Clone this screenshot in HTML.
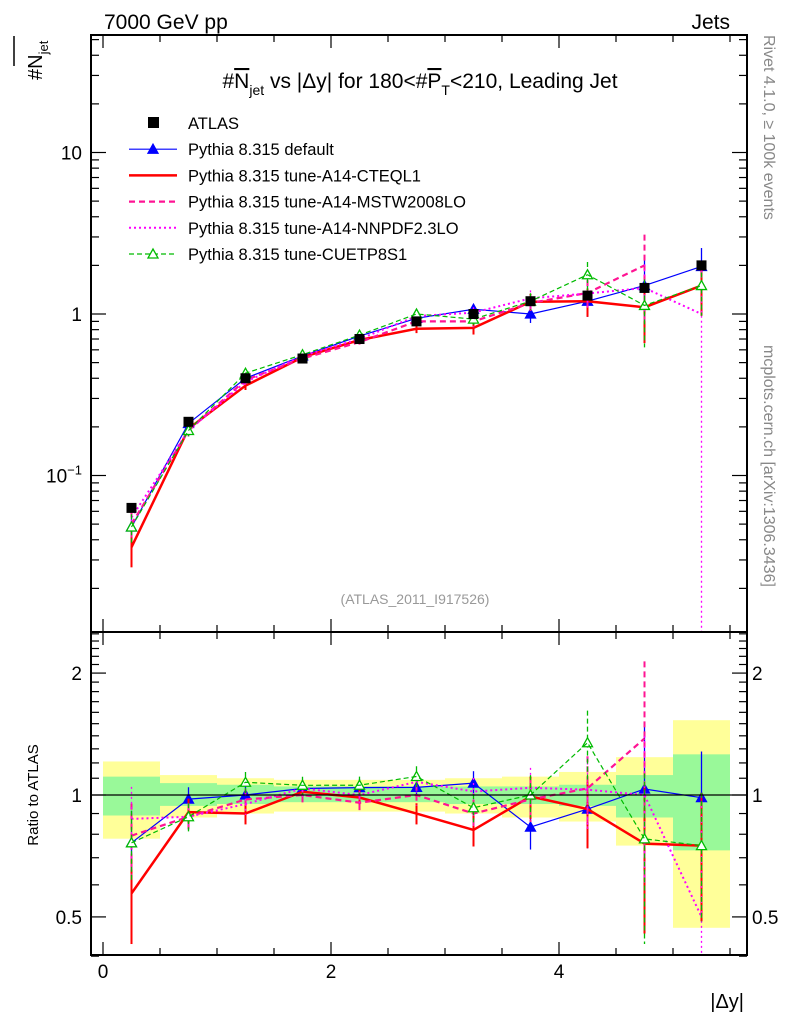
<!DOCTYPE html>
<html><head><meta charset="utf-8"><style>
body{margin:0;background:#fff;width:786px;height:1024px;overflow:hidden}
svg{font-family:"Liberation Sans",sans-serif}
</style></head><body>
<svg id="c" width="786" height="1024" viewBox="0 0 786 1024">
<rect width="786" height="1024" fill="#fff"/>
<g id="bands"></g>
<g id="series"></g>
<g id="axes"></g>
<text x="104" y="29" font-size="21">7000 GeV pp</text>
<text x="730" y="29" font-size="21" text-anchor="end">Jets</text>
<text x="420" y="88" font-size="21" text-anchor="middle">#<tspan text-decoration="overline">N</tspan><tspan font-size="14" dy="7">jet</tspan><tspan dy="-7"> vs |Δy| for 180&lt;#</tspan><tspan text-decoration="overline">P</tspan><tspan font-size="14" dy="7">T</tspan><tspan dy="-7">&lt;210, Leading Jet</tspan></text>
<text transform="translate(42,80) rotate(-90)" font-size="20">#N<tspan font-size="13" dy="6">jet</tspan></text>
<line x1="14" y1="36" x2="14" y2="66" stroke="#000" stroke-width="1.5"/>
<text transform="translate(38,795) rotate(-90)" font-size="15" text-anchor="middle">Ratio to ATLAS</text>
<text x="744" y="1008" font-size="20" text-anchor="end">|Δy|</text>
<text x="415" y="604" font-size="14" fill="#999" text-anchor="middle">(ATLAS_2011_I917526)</text>
<text transform="translate(764,35) rotate(90)" font-size="16" fill="#888">Rivet 4.1.0, ≥ 100k events</text>
<text transform="translate(764,345) rotate(90)" font-size="16" fill="#888">mcplots.cern.ch [arXiv:1306.3436]</text>
<g id="legend"></g>
</svg>
<script>
const binLo=[0,0.5,1,1.5,2,2.5,3,3.5,4,4.5,5];
const binHi=[0.5,1,1.5,2,2.5,3,3.5,4,4.5,5,5.5];
const centers=[0.25,0.75,1.25,1.75,2.25,2.75,3.25,3.75,4.25,4.75,5.25];
const atlas=[0.063,0.215,0.40,0.53,0.70,0.90,1.0,1.2,1.3,1.45,2.0];
const bandYellowUp=[1.21,1.12,1.1,1.09,1.09,1.09,1.1,1.11,1.14,1.24,1.53];
const bandYellowDn=[0.78,0.88,0.9,0.91,0.91,0.91,0.9,0.88,0.86,0.75,0.47];
const bandGreenUp=[1.11,1.07,1.06,1.05,1.05,1.05,1.05,1.05,1.06,1.12,1.26];
const bandGreenDn=[0.89,0.94,0.95,0.96,0.96,0.96,0.95,0.95,0.94,0.88,0.73];
const sDefault=[0.048,0.21,0.40,0.55,0.73,0.94,1.07,1.0,1.2,1.5,1.97];
const sCTEQ=[0.036,0.195,0.36,0.54,0.69,0.81,0.82,1.19,1.2,1.1,1.5];
const sMSTW=[0.05,0.19,0.39,0.53,0.67,0.90,0.90,1.17,1.35,2.0,null];
const sNNPDF=[0.055,0.19,0.38,0.55,0.70,0.97,1.02,1.25,1.34,1.45,1.0];
const sCUET=[0.048,0.19,0.43,0.56,0.74,1.0,0.93,1.2,1.75,1.13,1.5];
const errDefault=[0.2,0.07,0.05,0.05,0.05,0.06,0.07,0.12,0.2,0.45,0.3];
const errCTEQ=[0.25,0.08,0.06,0.05,0.05,0.06,0.09,0.12,0.2,0.4,0.35];
const errMSTW=[0.2,0.08,0.06,0.05,0.05,0.06,0.08,0.12,0.2,0.55,0];
const errNNPDF=[0.2,0.08,0.06,0.05,0.05,0.06,0.08,0.12,0.2,0.4,0.99];
const errCUET=[0.2,0.08,0.06,0.05,0.05,0.06,0.08,0.12,0.2,0.45,0.35];
const xTicks=[0,2,4];
const NS='http://www.w3.org/2000/svg';
const X0=103,XS=114,L=91,R=747,T=35,MB=632,RB=955;
const xs=v=>X0+v*XS;
const ym=v=>314-161.5*Math.log10(v);
const yr=v=>795-405*Math.log10(v);
function mk(p,t,a){const e=document.createElementNS(NS,t);for(const k in a)e.setAttribute(k,a[k]);p.appendChild(e);return e;}
const bands=document.getElementById('bands'),ser=document.getElementById('series'),ax=document.getElementById('axes'),leg=document.getElementById('legend');
for(let i=0;i<binLo.length;i++){
 let r=mk(bands,'rect',{x:xs(binLo[i]),y:yr(bandYellowUp[i]),width:xs(binHi[i])-xs(binLo[i]),height:yr(bandYellowDn[i])-yr(bandYellowUp[i]),fill:'#ffff99'});
 
 
 let g=mk(bands,'rect',{x:xs(binLo[i]),y:yr(bandGreenUp[i]),width:xs(binHi[i])-xs(binLo[i]),height:yr(bandGreenDn[i])-yr(bandGreenUp[i]),fill:'#99f999'});
 
 
}
mk(ax,'line',{x1:L,x2:R,y1:yr(1),y2:yr(1),stroke:'#000','stroke-width':1.2});
const series=[
 {v:sDefault,e:errDefault,c:'#0000ff',w:1.2,d:'',m:'tri',n:'pythia-default'},
 {v:sCTEQ,e:errCTEQ,c:'#ff0000',w:2.5,d:'',m:'none',n:'pythia-cteql1'},
 {v:sMSTW,e:errMSTW,c:'#ff1493',w:2.2,d:'6,4',m:'none',n:'pythia-mstw2008lo'},
 {v:sNNPDF,e:errNNPDF,c:'#ff00ff',w:2,d:'2,3',m:'none',n:'pythia-nnpdf23lo'},
 {v:sCUET,e:errCUET,c:'#00bb00',w:1.2,d:'5,3',m:'otri',n:'pythia-cuetp8s1'}];
function clipY(y,lo,hi){return Math.max(lo,Math.min(hi,y));}
series.forEach(s=>{
 const g=mk(ser,'g',{});
 
 
 let pm=[],pr=[];
 s.v.forEach((v,i)=>{if(v==null)return;
  const r=v/atlas[i];
  pm.push(xs(centers[i])+','+ym(v));pr.push(xs(centers[i])+','+clipY(yr(r),T,RB));
  const lo=Math.max(v*(1-s.e[i]),1e-3),hi=v*(1+s.e[i]);
  mk(g,'line',{x1:xs(centers[i]),x2:xs(centers[i]),y1:clipY(ym(hi),T,MB),y2:clipY(ym(lo),T,MB),stroke:s.c,'stroke-width':s.w>2?2:1.3,'stroke-dasharray':s.d});
  mk(g,'line',{x1:xs(centers[i]),x2:xs(centers[i]),y1:clipY(yr(r*(1+s.e[i])),MB,RB),y2:clipY(yr(Math.max(r*(1-s.e[i]),1e-3)),MB,RB),stroke:s.c,'stroke-width':s.w>2?2:1.3,'stroke-dasharray':s.d});
  if(s.m!='none'){[ym(v),yr(r)].forEach(y=>{
   const x=xs(centers[i]);
   const t=mk(g,'polygon',{points:`${x-5},${y+4} ${x+5},${y+4} ${x},${y-5}`,fill:s.m=='tri'?s.c:'#fff',stroke:s.c,'stroke-width':1.3});
   
   
  });}
 });
 mk(g,'polyline',{points:pm.join(' '),fill:'none',stroke:s.c,'stroke-width':s.w,'stroke-dasharray':s.d});
 mk(g,'polyline',{points:pr.join(' '),fill:'none',stroke:s.c,'stroke-width':s.w,'stroke-dasharray':s.d});
});
atlas.forEach((v,i)=>{
 const r=mk(ser,'rect',{x:xs(centers[i])-5,y:ym(v)-5,width:10,height:10,fill:'#000'});
 
 
});
mk(ax,'rect',{x:L,y:T,width:R-L,height:MB-T,fill:'none',stroke:'#000','stroke-width':2});
mk(ax,'rect',{x:L,y:MB,width:R-L,height:RB-MB,fill:'none',stroke:'#000','stroke-width':2});
for(let v=0;v<=5.5;v+=0.5){const maj=v%2==0;const x=xs(v);
 [[T,1],[MB,-1],[MB,1],[RB,-1]].forEach(([y,d])=>mk(ax,'line',{x1:x,x2:x,y1:y,y2:y+d*(maj?13:7),stroke:'#000','stroke-width':1.2}));}
xTicks.forEach(v=>{const t=mk(ax,'text',{x:xs(v),y:978,'font-size':19,'text-anchor':'middle'});t.textContent=v;
 
 });
for(let e=-2;e<=1;e++)for(let m=1;m<=9;m++){const v=m*Math.pow(10,e);const y=ym(v);if(y<T||y>MB)continue;
 const len=m==1?15:8;mk(ax,'line',{x1:L,x2:L+len,y1:y,y2:y,stroke:'#000','stroke-width':1.2});mk(ax,'line',{x1:R,x2:R-len,y1:y,y2:y,stroke:'#000','stroke-width':1.2});}
const mainLbl=[[10,'10'],[1,'1']];
mainLbl.forEach(([v,s])=>{const t=mk(ax,'text',{x:82,y:ym(v)+7,'font-size':19,'text-anchor':'end'});t.textContent=s;
 
 });
{const t=mk(ax,'text',{x:82,y:ym(0.1)+7,'font-size':19,'text-anchor':'end'});t.innerHTML='10<tspan font-size="13" dy="-8">−1</tspan>';
 
 }
[0.4,0.5,0.6,0.7,0.8,0.9,1,1.1,1.2,1.3,1.4,1.5,1.6,1.7,1.8,1.9,2,2.1,2.2,2.3,2.4,2.5].forEach(v=>{const y=yr(v);const maj=[0.5,1,2].includes(v);const len=maj?15:8;
 mk(ax,'line',{x1:L,x2:L+len,y1:y,y2:y,stroke:'#000','stroke-width':1.2});mk(ax,'line',{x1:R,x2:R-len,y1:y,y2:y,stroke:'#000','stroke-width':1.2});});
[[0.5,'0.5'],[1,'1'],[2,'2']].forEach(([v,s])=>{[[82,'end'],[752,'start']].forEach(([x,a])=>{const t=mk(ax,'text',{x:x,y:yr(v)+7,'font-size':19,'text-anchor':a});t.textContent=s;
 
 });});
const legNames=['ATLAS','Pythia 8.315 default','Pythia 8.315 tune-A14-CTEQL1','Pythia 8.315 tune-A14-MSTW2008LO','Pythia 8.315 tune-A14-NNPDF2.3LO','Pythia 8.315 tune-CUETP8S1'];
legNames.forEach((n,i)=>{const y=123+i*26.2;
 const g=mk(leg,'g',{});
 
 
 if(i==0)mk(g,'rect',{x:148,y:y-6,width:11,height:11,fill:'#000'});
 else{const s=series[i-1];mk(g,'line',{x1:129,x2:177,y1:y,y2:y,stroke:s.c,'stroke-width':s.w,'stroke-dasharray':s.d});
  if(s.m!='none')mk(g,'polygon',{points:`148,${y+4} 158,${y+4} 153,${y-5}`,fill:s.m=='tri'?s.c:'#fff',stroke:s.c,'stroke-width':1.3});}
 const t=mk(g,'text',{x:188,y:y+6,'font-size':16.5});t.textContent=n;});
</script>
</body></html>
